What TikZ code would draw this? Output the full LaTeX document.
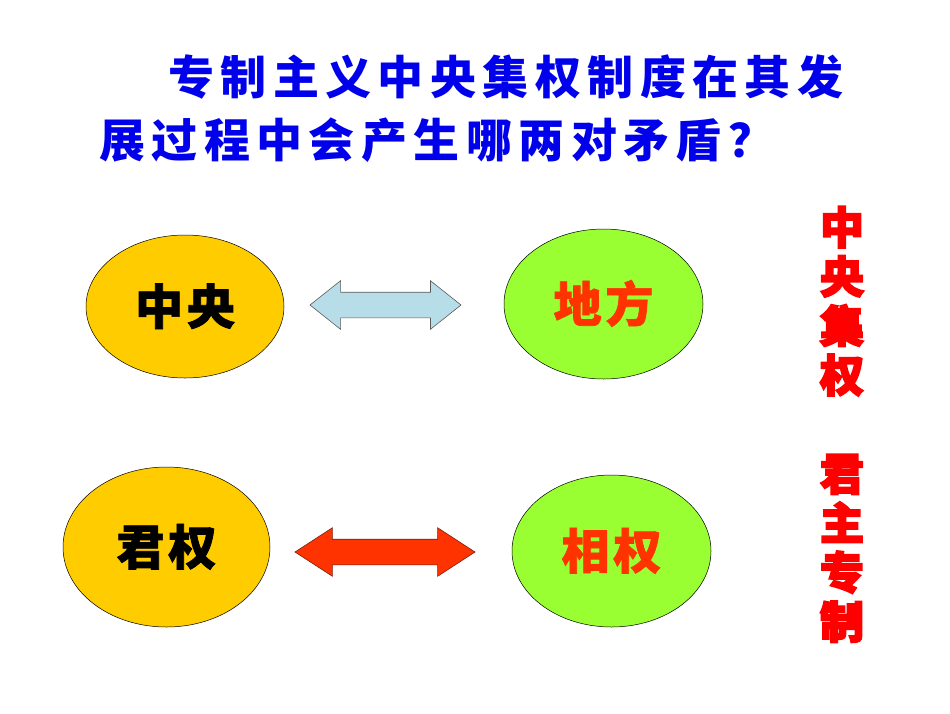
\documentclass[tikz,border=0pt]{standalone}
\usepackage{fontspec}
\usepackage{xcolor}
\usetikzlibrary{shapes.geometric}
\usetikzlibrary{shapes.arrows}
\usetikzlibrary{positioning}

\newfontfamily\cjk{Noto Sans CJK SC}
\newfontfamily\cjkheavy{Noto Sans CJK SC}[FakeBold=1.5]
\newfontfamily\cjkfat{Noto Sans CJK SC}[FakeBold=4]

\definecolor{titleblue}{RGB}{0,0,235}
\definecolor{powyellow}{RGB}{255,204,0}
\definecolor{powgreen}{RGB}{153,255,51}
\definecolor{powred}{RGB}{255,51,0}
\definecolor{sidered}{RGB}{255,0,0}
\definecolor{pairblue}{RGB}{183,222,232}
\definecolor{pairedge}{RGB}{90,90,90}
\definecolor{conflictedge}{RGB}{120,30,20}

% text of an ellipse, set a little below its middle
\newcommand{\powtext}[1]{\raisebox{-5pt}[36pt][10pt]{#1}}

\begin{document}
\begin{tikzpicture}[x=1pt,y=-1pt,
    power/.style={ellipse, draw=black, line width=0.5pt, inner sep=0pt,
      font=\cjkheavy\bfseries\fontsize{48}{50}\selectfont\addfontfeature{LetterSpace=8}},
    centre/.style={power, fill=powyellow, text=black},
    local/.style={power, fill=powgreen, text=powred},
    pairarrow/.style={double arrow, inner sep=0pt, line width=0.6pt,
      text height=12.5pt, text depth=12.5pt, double arrow head extend=11.5pt}]

  % page frame
  \useasboundingbox (0,0) rectangle (950,713);
  \fill[white] (0,0) rectangle (950,713);

  % question in two lines
  \node[anchor=west, inner sep=0pt, text=titleblue,
    font=\cjk\bfseries\fontsize{46}{50}\selectfont\addfontfeature{LetterSpace=14}]
    (line1) at (168,77) {专制主义中央集权制度在其发};
  \node[anchor=west, inner sep=0pt, text=titleblue,
    font=\cjk\bfseries\fontsize{46}{50}\selectfont\addfontfeature{LetterSpace=14}]
    (line2) at (99,140) {展过程中会产生哪两对矛盾？};

  % first pair: centre and localities
  \node[centre, minimum width=198pt, minimum height=143pt] (zy) at (185,306.5) {\powtext{中央}};
  \node[local, minimum width=199pt, minimum height=150pt] (df) at (603.5,304) {\powtext{地方}};
  \node[pairarrow, fill=pairblue, draw=pairedge, minimum height=151pt,
    double arrow tip angle=77] (zydf) at (385.5,305) {};

  % second pair: emperor and chancellor
  \node[centre, minimum width=207pt, minimum height=160pt] (jq) at (166.5,547) {\powtext{君权}};
  \node[local, minimum width=199pt, minimum height=152pt] (xq) at (611.5,551) {\powtext{相权}};
  \node[pairarrow, fill=powred, draw=conflictedge, minimum height=180pt,
    double arrow tip angle=66] (jqxq) at (385,552) {};

  % vertical side note
  \node[anchor=north, inner sep=0pt, align=center, text=sidered,
    font=\cjkfat\bfseries\fontsize{44}{49.3}\selectfont] (side) at (842,206)
    {中\\央\\集\\权\\[49.3pt]君\\主\\专\\制};

\end{tikzpicture}
\end{document}
